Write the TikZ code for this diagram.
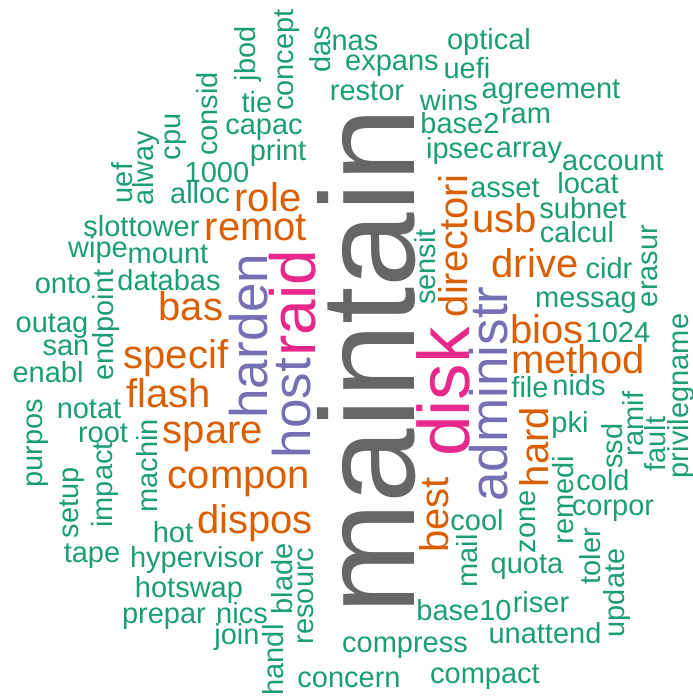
\documentclass[tikz,border=0pt]{standalone}
\usepackage{fontspec}
\setmainfont{Liberation Sans}
\definecolor{wgreen}{HTML}{1B9E77}
\definecolor{worange}{HTML}{D95F02}
\definecolor{wpurple}{HTML}{7570B3}
\definecolor{wpink}{HTML}{E7298A}
\definecolor{wgray}{HTML}{666666}
\begin{document}
\begin{tikzpicture}[x = 1pt, y = -1pt,
    word/.style = {inner sep = 0pt, outer sep = 0pt, anchor = base},
    vert/.style = {rotate = 90},
    rare/.style = {word, text = wgreen, font = \fontsize{29}{29}\selectfont},
    common/.style = {word, text = worange, font = \fontsize{40}{40}\selectfont},
    frequent/.style = {word, text = wpurple, font = \fontsize{53}{53}\selectfont},
    heavy/.style = {word, text = wpink},
    dominant/.style = {word, text = wgray, font = \fontsize{134}{134}\selectfont}]

    \useasboundingbox (0,0) rectangle (693,697);

    \node[dominant, vert] (maintain) at (414,361.5) {maintain};
    \node[heavy, vert, font = \fontsize{73}{73}\selectfont] (disk) at (469,392) {disk};
    \node[heavy, vert, font = \fontsize{64}{64}\selectfont] (raid) at (315,303) {raid};

    \node[frequent, vert] (harden) at (267,336) {harden};
    \node[frequent, vert] (host) at (310,408) {host};
    \node[frequent, vert] (administr) at (507,394) {administr};

    \node[common] (role) at (268,211) {role};
    \node[common] (remot) at (256,240) {remot};
    \node[common] (usb) at (505,232) {usb};
    \node[common] (drive) at (535,277) {drive};
    \node[common] (bas) at (191,320) {bas};
    \node[common] (bios) at (547,343) {bios};
    \node[common] (specif) at (176,368) {specif};
    \node[common] (method) at (578,373) {method};
    \node[common] (flash) at (169,407) {flash};
    \node[common] (spare) at (213,443) {spare};
    \node[common] (compon) at (239,488) {compon};
    \node[common] (dispos) at (255,533) {dispos};
    \node[common, vert] (directori) at (467,246) {directori};
    \node[common, vert] (best) at (448,515) {best};
    \node[common, vert] (hard) at (548,447) {hard};

    \node[rare] (nas) at (355,50) {nas};
    \node[rare] (optical) at (489,49) {optical};
    \node[rare] (expans) at (392,70) {expans};
    \node[rare] (uefi) at (467,78) {uefi};
    \node[rare] (restor) at (367,100) {restor};
    \node[rare] (agreement) at (551,98) {agreement};
    \node[rare] (wins) at (449,110) {wins};
    \node[rare] (ram) at (526,123) {ram};
    \node[rare] (base2) at (460,133) {base2};
    \node[rare] (ipsec) at (460,158) {ipsec};
    \node[rare] (array) at (529,157) {array};
    \node[rare] (account) at (613,170) {account};
    \node[rare] (asset) at (505,197) {asset};
    \node[rare] (locat) at (588,193) {locat};
    \node[rare] (subnet) at (583,218) {subnet};
    \node[rare] (calcul) at (577,242) {calcul};
    \node[rare] (cidr) at (609,278) {cidr};
    \node[rare] (messag) at (586,307) {messag};
    \node[rare] (n1024) at (618,342) {1024};
    \node[rare] (tie) at (257,112) {tie};
    \node[rare] (capac) at (264,134) {capac};
    \node[rare] (print) at (278,160) {print};
    \node[rare] (n1000) at (217,182) {1000};
    \node[rare] (alloc) at (200,203) {alloc};
    \node[rare] (slot) at (106,236) {slot};
    \node[rare] (tower) at (164,236) {tower};
    \node[rare] (wipe) at (98,257) {wipe};
    \node[rare] (mount) at (168,263) {mount};
    \node[rare] (onto) at (63,293) {onto};
    \node[rare] (databas) at (169,290) {databas};
    \node[rare] (outag) at (52,332) {outag};
    \node[rare] (san) at (66,355) {san};
    \node[rare] (enabl) at (48,382) {enabl};
    \node[rare] (notat) at (89,418) {notat};
    \node[rare] (root) at (103,442) {root};
    \node[rare] (hot) at (173,542) {hot};
    \node[rare] (tape) at (92,562) {tape};
    \node[rare] (hypervisor) at (197,567) {hypervisor};
    \node[rare] (hotswap) at (189,597) {hotswap};
    \node[rare] (prepar) at (164,623) {prepar};
    \node[rare] (nics) at (242,623) {nics};
    \node[rare] (join) at (237,644) {join};
    \node[rare] (concern) at (349,687) {concern};
    \node[rare] (compress) at (405,652) {compress};
    \node[rare] (compact) at (485,683) {compact};
    \node[rare] (base10) at (464,620) {base10};
    \node[rare] (riser) at (541,612) {riser};
    \node[rare] (unattend) at (545,643) {unattend};
    \node[rare] (quota) at (527,573) {quota};
    \node[rare] (cool) at (477,530) {cool};
    \node[rare] (cold) at (603,490) {cold};
    \node[rare] (corpor) at (613,515) {corpor};
    \node[rare] (file) at (530,397) {file};
    \node[rare] (nids) at (579,395) {nids};
    \node[rare] (pki) at (570,432) {pki};

    \node[rare, vert] (jbod) at (255,54) {jbod};
    \node[rare, vert] (concept) at (293,60) {concept};
    \node[rare, vert] (das) at (330,49) {das};
    \node[rare, vert] (consid) at (217,114) {consid};
    \node[rare, vert] (cpu) at (180,137) {cpu};
    \node[rare, vert] (alway) at (153,168) {alway};
    \node[rare, vert] (uef) at (132,183) {uef};
    \node[rare, vert] (sensit) at (435,267) {sensit};
    \node[rare, vert] (erasur) at (657,266) {erasur};
    \node[rare, vert] (endpoint) at (113,325) {endpoint};
    \node[rare, vert] (purpos) at (42,443) {purpos};
    \node[rare, vert] (impact) at (112,485) {impact};
    \node[rare, vert] (setup) at (78,503) {setup};
    \node[rare, vert] (machin) at (157,466) {machin};
    \node[rare, vert] (blade) at (292,579) {blade};
    \node[rare, vert] (resourc) at (313,596) {resourc};
    \node[rare, vert] (handl) at (283,660) {handl};
    \node[rare, vert] (update) at (624,593) {update};
    \node[rare, vert] (toler) at (600,556) {toler};
    \node[rare, vert] (mail) at (477,561) {mail};
    \node[rare, vert] (zone) at (535,522) {zone};
    \node[rare, vert] (remedi) at (573,500) {remedi};
    \node[rare, vert] (ssd) at (622,446) {ssd};
    \node[rare, vert] (ramif) at (643,424) {ramif};
    \node[rare, vert] (fault) at (665,444) {fault};
    \node[rare, vert] (privilegname) at (688,396) {privilegname};

\end{tikzpicture}
\end{document}
